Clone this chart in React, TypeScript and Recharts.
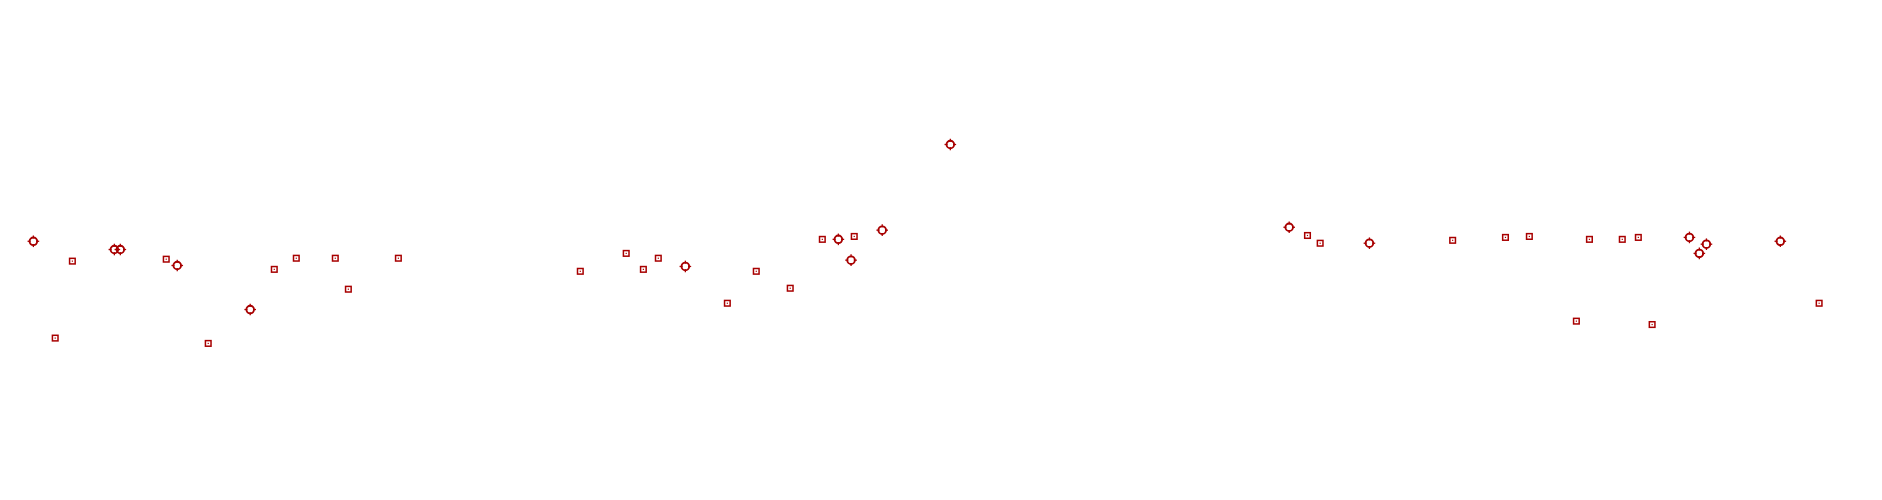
import { ScatterChart, Scatter, XAxis, YAxis } from "recharts";

const RED = "#a80000";

// series 1: small squares (x position, value)
const squareX = [
  34.5, 25.3, 84.8, 107.3, 142.7, 154.5, 175.4, 182.4, 209.2, 306.7, 331.3, 340.5, 348.5,
  385.5, 401.0, 419.2, 436.4, 453.5, 696.4, 703.2, 774.2, 802.5, 815.3, 847.5, 865.1, 873.7,
  840.5, 881.1, 970.6,
];
const squareY = [
  47.7, 31.8, 48.1, 30.7, 46.0, 48.3, 48.3, 41.9, 48.3, 45.6, 49.3, 46.0, 48.3,
  39.0, 45.6, 42.1, 52.2, 52.8, 53.0, 51.4, 52.0, 52.6, 52.8, 52.2, 52.2, 52.6,
  35.3, 34.6, 39.0,
];

// series 2: circled crosshair markers
const circleX = [
  13.6, 57.0, 60.2, 90.7, 129.8, 363.0, 445.0, 451.8, 468.5, 505.0, 686.6, 729.6, 901.1,
  910.2, 906.4, 949.8,
];
const circleY = [
  51.8, 50.1, 50.1, 46.8, 37.7, 46.6, 52.2, 47.9, 54.1, 71.8, 54.7, 51.4, 52.6,
  51.2, 49.3, 51.8,
];

const squares = squareX.map((x, i) => ({ x, y: squareY[i] }));
const circles = circleX.map((x, i) => ({ x, y: circleY[i] }));

function SquareMark(props: any) {
  const { cx, cy } = props;
  if (cx == null || cy == null) return null;
  return (
    <g>
      <rect x={cx - 2.8} y={cy - 2.8} width={5.6} height={5.6} fill="none" stroke={RED} strokeWidth={1.5} />
      <rect x={cx - 0.6} y={cy - 0.6} width={1.2} height={1.2} fill={RED} />
    </g>
  );
}

function TargetMark(props: any) {
  const { cx, cy } = props;
  if (cx == null || cy == null) return null;
  return (
    <g stroke={RED} strokeWidth={1.9} fill="none">
      <circle cx={cx} cy={cy} r={3.8} />
      <line x1={cx} y1={cy - 5.8} x2={cx} y2={cy - 2.8} strokeWidth={1.3} />
      <line x1={cx} y1={cy + 2.8} x2={cx} y2={cy + 5.8} strokeWidth={1.3} />
      <line x1={cx - 5.8} y1={cy} x2={cx - 2.8} y2={cy} strokeWidth={1.3} />
      <line x1={cx + 2.8} y1={cy} x2={cx + 5.8} y2={cy} strokeWidth={1.3} />
    </g>
  );
}

export default function App() {
  return (
    <div style={{ width: 1866, height: 484 }}>
      <ScatterChart width={1866} height={484} margin={{ top: 0, right: 0, bottom: 0, left: 0 }}>
        <XAxis type="number" dataKey="x" domain={[0, 1000]} hide />
        <YAxis type="number" dataKey="y" domain={[0, 100]} hide />
        <Scatter data={squares} shape={<SquareMark />} isAnimationActive={false} />
        <Scatter data={circles} shape={<TargetMark />} isAnimationActive={false} />
      </ScatterChart>
    </div>
  );
}
